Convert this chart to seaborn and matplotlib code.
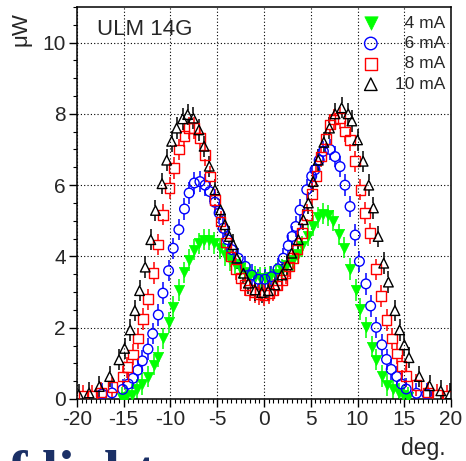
import pandas as pd
import seaborn as sns
import matplotlib.pyplot as plt
from matplotlib.ticker import MultipleLocator

# angulo (deg) y potencia (uW) para cada corriente
x_4mA = [-15.2, -14.7, -14.15, -13.6, -13.0, -12.4, -11.8, -11.3, -10.8, -10.2,
         -9.7, -9.1, -8.5, -8.0, -7.45, -6.9, -6.4, -5.85, -5.3, -4.7,
         -4.15, -3.6, -3.1, -2.6, -2.05, -1.5, -0.95, -0.4, 0.1, 0.65,
         1.25, 1.9, 2.5, 3.1, 3.6, 4.1, 4.7, 5.25, 5.8, 6.3,
         6.85, 7.4, 8.0, 8.6, 9.2, 9.8, 10.3, 10.9, 11.5, 12.0,
         12.6, 13.2, 13.8, 14.4, 14.9, 15.4]
y_4mA = [0.04, 0.07, 0.12, 0.27, 0.42, 0.63, 0.96, 1.19, 1.70, 2.15,
         2.59, 3.06, 3.55, 3.90, 4.19, 4.37, 4.47, 4.47, 4.38, 4.23,
         4.04, 3.90, 3.78, 3.67, 3.57, 3.48, 3.42, 3.39, 3.40, 3.43,
         3.52, 3.62, 3.75, 3.90, 4.08, 4.28, 4.58, 4.86, 5.10, 5.20,
         5.15, 5.00, 4.62, 4.25, 3.65, 3.06, 2.52, 2.01, 1.47, 1.10,
         0.65, 0.39, 0.27, 0.16, 0.10, 0.05]

x_6mA = [-17.3, -16.25, -15.1, -14.5, -14.0, -13.5, -13.0, -12.4, -11.9, -11.3,
         -10.8, -10.2, -9.7, -9.1, -8.5, -8.0, -7.45, -6.85, -6.3, -5.8,
         -5.25, -4.8, -4.35, -3.9, -3.45, -2.75, -2.0, -1.3, -0.6, 0.1,
         0.8, 1.5, 2.07, 2.6, 3.0, 3.4, 3.85, 4.57, 5.1, 5.45,
         5.9, 6.35, 7.06, 7.6, 8.13, 8.66, 9.2, 9.75, 10.2, 10.9,
         11.4, 12.0, 12.6, 13.1, 13.6, 14.2, 14.7, 15.2, 16.3, 17.4]
y_6mA = [0.14, 0.17, 0.27, 0.42, 0.58, 0.81, 1.07, 1.40, 1.83, 2.36,
         2.97, 3.60, 4.23, 4.75, 5.33, 5.78, 6.06, 6.10, 6.00, 5.82,
         5.52, 5.22, 4.79, 4.47, 4.19, 3.95, 3.72, 3.48, 3.36, 3.36,
         3.43, 3.65, 3.95, 4.30, 4.56, 4.84, 5.30, 5.87, 6.25, 6.43,
         6.70, 6.95, 7.00, 6.80, 6.52, 6.00, 5.40, 4.60, 3.86, 3.23,
         2.61, 2.01, 1.52, 1.11, 0.83, 0.63, 0.42, 0.28, 0.16, 0.14]

x_8mA = [-19.3, -18.4, -17.4, -16.2, -15.1, -14.6, -14.0, -13.5, -12.9, -12.4,
         -11.8, -11.3, -10.8, -10.1, -9.6, -9.06, -8.5, -8.0, -7.45, -6.85,
         -6.3, -5.8, -5.24, -4.63, -4.06, -3.56, -3.0, -2.5, -2.0, -1.5,
         -1.0, -0.5, 0.05, 0.55, 1.0, 1.45, 1.9, 2.3, 2.7, 3.1,
         3.5, 4.03, 4.57, 5.1, 5.6, 6.1, 6.6, 7.06, 7.45, 8.1,
         8.66, 9.2, 9.73, 10.3, 10.8, 11.35, 12.0, 12.5, 13.1, 13.7,
         14.2, 14.7, 15.2, 16.3, 17.5, 18.5, 19.6]
y_8mA = [0.10, 0.08, 0.18, 0.33, 0.63, 0.89, 1.25, 1.70, 2.24, 2.80,
         3.53, 4.33, 5.17, 5.92, 6.48, 7.00, 7.37, 7.60, 7.60, 7.32,
         6.85, 6.24, 5.59, 4.98, 4.39, 4.00, 3.65, 3.40, 3.20, 3.06,
         3.00, 2.95, 2.92, 2.97, 3.06, 3.18, 3.34, 3.52, 3.72, 3.95,
         4.19, 4.65, 5.17, 5.75, 6.25, 6.80, 7.30, 7.70, 7.84, 7.88,
         7.50, 7.27, 6.67, 5.87, 5.22, 4.65, 3.64, 2.89, 2.22, 1.70,
         1.28, 0.93, 0.65, 0.39, 0.18, 0.11, 0.10]

x_10mA = [-19.8, -18.7, -17.6, -16.5, -15.5, -14.9, -14.3, -13.8, -13.3, -12.7,
          -12.1, -11.6, -10.9, -10.4, -9.87, -9.34, -8.7, -8.16, -7.56, -6.95,
          -6.4, -5.85, -5.24, -4.65, -4.17, -3.7, -3.3, -2.9, -2.2, -1.67,
          -0.96, -0.25, 0.46, 1.18, 1.9, 2.5, 2.96, 3.67, 4.2, 4.74,
          5.25, 5.8, 6.4, 7.0, 7.6, 8.3, 9.0, 9.4, 10.0, 10.6,
          11.2, 11.7, 12.2, 12.8, 13.3, 14.0, 14.5, 15.0, 15.5, 16.6,
          17.7, 18.9, 19.9]
y_10mA = [0.12, 0.17, 0.35, 0.63, 1.10, 1.42, 1.94, 2.48, 3.04, 3.70,
          4.47, 5.29, 6.04, 6.70, 7.23, 7.60, 7.86, 7.98, 7.88, 7.55,
          7.09, 6.53, 5.87, 5.31, 4.89, 4.56, 4.33, 3.95, 3.53, 3.25,
          3.06, 2.99, 3.04, 3.20, 3.48, 3.76, 4.09, 4.47, 5.03, 5.50,
          6.10, 6.70, 7.20, 7.60, 8.00, 8.17, 8.00, 7.80, 7.27, 6.67,
          6.00, 5.36, 4.56, 3.81, 3.28, 2.48, 1.94, 1.52, 1.16, 0.63,
          0.37, 0.23, 0.14]

error_uW = 0.3
etiquetas = ["4 mA", "6 mA", "8 mA", "10 mA"]

series = [
    (x_4mA, y_4mA, "v", "#00ff00", True),
    (x_6mA, y_6mA, "o", "#0000ff", False),
    (x_8mA, y_8mA, "s", "#ff0000", False),
    (x_10mA, y_10mA, "^", "black", False),
]

sns.set_style("ticks")
plt.rcParams['font.family'] = ['Liberation Sans', 'DejaVu Sans']
plt.rcParams['axes.unicode_minus'] = False

fig = plt.figure(figsize=(4.66, 4.61), dpi=100)
ax = fig.add_axes([0.165, 0.1345, 0.803, 0.8505])

gap = 0.13  # hueco de la barra de error dentro del marcador hueco
for (xs, ys, marker, color, filled), label in zip(series, etiquetas):
    df = pd.DataFrame({'deg': xs, 'uW': ys})
    g = 0.0 if filled else gap
    ax.vlines(df['deg'], df['uW'] + g, df['uW'] + error_uW, color=color, lw=1.1, zorder=2)
    ax.vlines(df['deg'], df['uW'] - error_uW, df['uW'] - g, color=color, lw=1.1, zorder=2)
    if filled:
        sns.scatterplot(data=df, x='deg', y='uW', marker=marker, s=55, color=color,
                        edgecolor=color, linewidth=0.5, label=label, ax=ax, zorder=3)
    else:
        sns.scatterplot(data=df, x='deg', y='uW', marker=marker, s=48, facecolor='none',
                        edgecolor=color, linewidth=1.0, label=label, ax=ax, zorder=3)

ax.set_xlim(-20, 20)
ax.set_ylim(0, 11)
ax.xaxis.set_major_locator(MultipleLocator(5))
ax.xaxis.set_minor_locator(MultipleLocator(0.5))
ax.yaxis.set_major_locator(MultipleLocator(2))
ax.yaxis.set_minor_locator(MultipleLocator(0.5))
ax.tick_params(which='major', direction='out', length=6, width=1.0, labelsize=15, pad=2, color='black')
ax.tick_params(which='minor', direction='out', length=3, width=0.8, color='black')
ax.grid(True, which='major', color='black', ls=(0, (1, 2)), lw=0.8)
ax.set_axisbelow(True)
for sp in ax.spines.values():
    sp.set_color('black')
    sp.set_linewidth(1.1)
ax.set_xlabel("")
ax.set_ylabel("")

ax.text(0.0535, 0.9286, "ULM 14G", transform=ax.transAxes, fontsize=16, va='baseline')

leg = ax.legend(loc='upper right', bbox_to_anchor=(0.985, 0.978), frameon=False,
                fontsize=12.5, handlelength=1.0, handletextpad=0.9, labelspacing=0.3,
                borderpad=0, borderaxespad=0, markerscale=1.3)
for t in leg.get_texts():
    if len(t.get_text()) == 4:
        t.set_text("\u2007" + t.get_text())

fig.text(446 / 466, 6 / 461, "deg.", ha='right', va='baseline', fontsize=16.5)
fig.text(21 / 466, 1 - 12 / 461, "\u03bcW", rotation=90, ha='center', va='top', fontsize=16)
fig.text(8 / 466, -29 / 461, "f light", ha='left', va='baseline', fontsize=42,
         fontweight='bold', color='#1b3066', family=['Liberation Serif', 'DejaVu Serif'])

fig.savefig("out.png", dpi=100)
